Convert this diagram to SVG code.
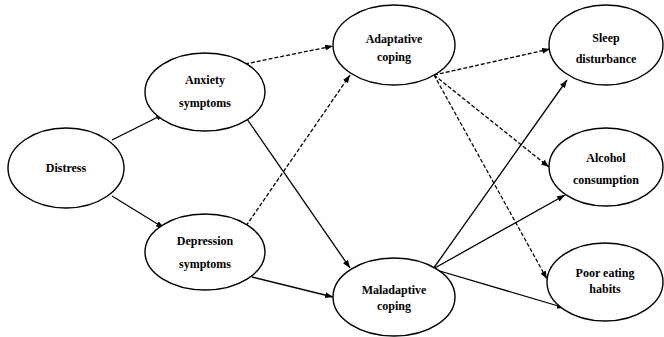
<svg xmlns="http://www.w3.org/2000/svg" width="664" height="337" viewBox="0 0 664 337">
<style>
.n ellipse{fill:#fff;stroke:#000;stroke-width:1.4}
.n text{font-family:"Liberation Serif","Times New Roman","DejaVu Serif",serif;font-weight:bold;font-size:12px;text-anchor:middle;fill:#000}
.c line{stroke:#000;stroke-width:1.3;fill:none;marker-end:url(#ah)}
.c line.d{stroke-dasharray:4 2}
</style>
<defs>
<marker id="ah" viewBox="0 0 8 6" refX="8" refY="3" markerWidth="8" markerHeight="6" markerUnits="userSpaceOnUse" orient="auto">
<path d="M0,0 L8,3 L0,6 z" fill="#000"/>
</marker>
</defs>
<rect width="664" height="337" fill="#fff"/>
<g class="c" id="connectors">
<line x1="112" y1="140" x2="164" y2="114"/>
<line x1="112" y1="196" x2="164" y2="228"/>
<line class="d" x1="245" y1="64" x2="333" y2="46"/>
<line x1="247" y1="119" x2="350" y2="268"/>
<line class="d" x1="246" y1="226" x2="350" y2="75"/>
<line x1="252" y1="277" x2="333" y2="297"/>
<line class="d" x1="434" y1="75" x2="550" y2="49"/>
<line class="d" x1="434" y1="75" x2="549" y2="167"/>
<line class="d" x1="434" y1="75" x2="547" y2="279"/>
<line x1="433" y1="269" x2="567" y2="80"/>
<line x1="433" y1="269" x2="565" y2="195"/>
<line x1="433" y1="269" x2="565" y2="308"/>
</g>
<g class="n" id="distress"><ellipse cx="66" cy="168" rx="58" ry="40"/><text x="66" y="172">Distress</text></g>
<g class="n" id="anxiety"><ellipse cx="205" cy="92" rx="60" ry="39"/><text x="205" y="84">Anxiety</text><text x="205" y="107">symptoms</text></g>
<g class="n" id="depression"><ellipse cx="205" cy="252" rx="60" ry="38"/><text x="205" y="245">Depression</text><text x="205" y="268">symptoms</text></g>
<g class="n" id="adaptive"><ellipse cx="394" cy="45" rx="61" ry="40"/><text x="394" y="43">Adaptative</text><text x="394" y="61">coping</text></g>
<g class="n" id="maladaptive"><ellipse cx="394" cy="297" rx="61" ry="39"/><text x="394" y="294">Maladaptive</text><text x="394" y="310">coping</text></g>
<g class="n" id="sleep"><ellipse cx="606" cy="45" rx="57" ry="40"/><text x="606" y="42">Sleep</text><text x="606" y="63">disturbance</text></g>
<g class="n" id="alcohol"><ellipse cx="606" cy="167" rx="57" ry="39"/><text x="606" y="162">Alcohol</text><text x="606" y="184">consumption</text></g>
<g class="n" id="poor"><ellipse cx="605" cy="282" rx="58" ry="39"/><text x="605" y="277">Poor eating</text><text x="605" y="293">habits</text></g>
</svg>
